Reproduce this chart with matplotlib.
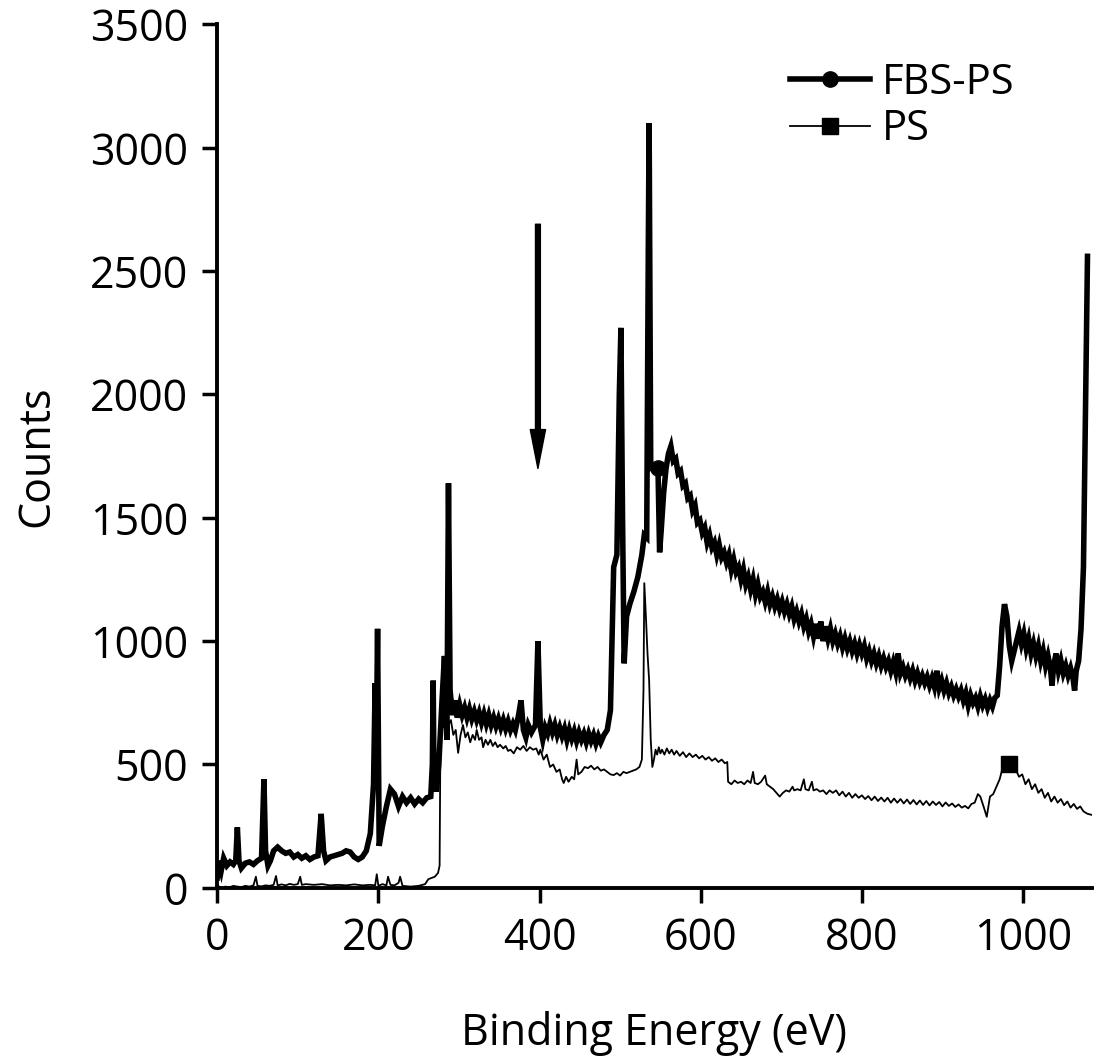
import matplotlib
matplotlib.use("Agg")
import matplotlib.pyplot as plt

plt.rcParams['font.family'] = ['Open Sans', 'DejaVu Sans']

# FBS-PS survey spectrum (binding energy eV, counts)
fbs_ps_points = [
    (0, 40), (2, 110), (5, 70), (8, 120), (12, 90), (16, 105), (20, 95), (23, 110),
    (25, 245), (27, 110), (30, 80), (35, 100), (40, 105), (45, 95), (50, 110), (55, 120),
    (58, 440), (60, 150), (63, 90), (66, 110), (70, 150), (75, 165), (80, 150), (85, 140),
    (90, 145), (95, 125), (100, 135), (105, 120), (110, 130), (115, 115), (120, 125),
    (125, 130), (129, 300), (132, 150), (135, 110), (140, 125), (145, 130), (150, 135),
    (155, 140), (160, 150), (165, 145), (170, 125), (175, 115), (180, 125), (185, 150),
    (190, 220), (194, 420), (196, 830), (197, 400), (199, 1050), (201, 170), (205, 250),
    (210, 330), (215, 400), (220, 380), (225, 330), (230, 370), (235, 345), (240, 365),
    (245, 340), (250, 360), (255, 345), (260, 365), (265, 370), (267, 500), (268, 840),
    (269, 450), (272, 390), (275, 500), (279, 760), (282, 940), (285, 600), (287, 1640),
    (289, 800), (292, 700), (295, 760), (298, 690), (301, 740), (304, 700), (307, 730),
    (310, 690), (313, 725), (316, 685), (319, 715), (322, 680), (325, 710), (328, 670),
    (331, 705), (334, 665), (337, 700), (340, 660), (343, 690), (346, 655), (349, 685),
    (352, 650), (355, 680), (358, 645), (361, 675), (364, 640), (367, 665), (370, 640),
    (374, 700), (377, 760), (380, 640), (383, 610), (386, 660), (390, 630), (395, 660),
    (398, 1000), (401, 650), (404, 600), (407, 650), (410, 625), (413, 665), (416, 630),
    (419, 660), (422, 620), (425, 650), (428, 615), (431, 645), (434, 600), (437, 640),
    (440, 605), (443, 635), (446, 595), (449, 630), (452, 600), (455, 625), (458, 590),
    (461, 625), (464, 595), (467, 620), (470, 585), (473, 615), (476, 590), (480, 620),
    (484, 640), (488, 720), (492, 1300), (496, 1350), (499, 2000), (501, 2270), (503, 1500),
    (505, 910), (508, 1100), (512, 1150), (517, 1200), (522, 1260), (527, 1350), (530, 1430),
    (533, 1420), (535, 2600), (536, 3100), (538, 1700), (547, 1700), (549, 1360), (551, 1450),
    (554, 1600), (557, 1700), (560, 1760), (563, 1790), (566, 1730), (569, 1740), (572, 1680),
    (575, 1690), (578, 1630), (581, 1640), (584, 1580), (587, 1590), (590, 1530), (593, 1550),
    (596, 1480), (599, 1490), (602, 1440), (605, 1460), (608, 1400), (611, 1430), (614, 1380),
    (617, 1400), (620, 1350), (623, 1390), (626, 1340), (629, 1360), (632, 1320), (635, 1350),
    (638, 1290), (641, 1330), (644, 1280), (647, 1300), (650, 1250), (653, 1290), (656, 1230),
    (659, 1260), (662, 1210), (665, 1250), (668, 1190), (671, 1230), (674, 1180), (677, 1200),
    (680, 1160), (683, 1200), (686, 1150), (689, 1180), (692, 1140), (695, 1170), (698, 1130),
    (701, 1160), (704, 1120), (707, 1150), (710, 1110), (713, 1140), (716, 1090), (719, 1120),
    (722, 1080), (725, 1110), (728, 1060), (731, 1090), (734, 1040), (737, 1070), (740, 1020),
    (743, 1070), (746, 1010), (749, 1080), (752, 1000), (755, 1060), (758, 1010), (761, 1050),
    (764, 1000), (767, 1030), (770, 990), (773, 1020), (776, 975), (779, 1010), (782, 970),
    (785, 1000), (788, 960), (791, 990), (794, 950), (797, 985), (800, 950), (803, 980),
    (806, 930), (809, 960), (812, 920), (815, 950), (818, 910), (821, 940), (824, 900),
    (827, 930), (830, 895), (833, 920), (836, 880), (839, 915), (842, 875), (845, 950),
    (848, 870), (851, 895), (854, 860), (857, 885), (860, 850), (863, 880), (866, 840),
    (869, 870), (872, 835), (875, 860), (878, 830), (881, 855), (884, 820), (887, 850),
    (890, 815), (893, 880), (896, 810), (899, 840), (902, 800), (905, 830), (908, 790),
    (911, 815), (914, 780), (917, 805), (920, 775), (923, 800), (926, 760), (929, 790),
    (932, 740), (935, 780), (938, 750), (941, 770), (944, 735), (947, 775), (950, 740),
    (953, 765), (956, 730), (959, 760), (962, 735), (965, 770), (968, 780), (971, 900),
    (974, 1060), (977, 1150), (980, 1100), (983, 980), (986, 920), (989, 960), (992, 1000),
    (995, 1040), (998, 990), (1001, 1030), (1004, 970), (1007, 1010), (1010, 950), (1013, 990),
    (1016, 940), (1019, 980), (1022, 920), (1025, 960), (1028, 900), (1031, 940), (1034, 890),
    (1036, 820), (1038, 900), (1041, 950), (1044, 880), (1047, 920), (1050, 870), (1053, 900),
    (1056, 860), (1059, 890), (1062, 850), (1064, 800), (1066, 880), (1069, 920), (1072, 1050),
    (1075, 1300), (1077, 1800), (1079, 2300), (1080, 2560),
]

# PS survey spectrum
ps_points = [
    (0, 10), (5, 0), (10, 5), (15, 2), (20, 8), (25, 5), (30, 3), (35, 8), (40, 5), (45, 10),
    (48, 45), (50, 8), (55, 6), (60, 10), (65, 8), (70, 12), (73, 48), (75, 10), (80, 14),
    (85, 10), (90, 16), (95, 12), (100, 15), (103, 45), (105, 12), (110, 15), (120, 12),
    (130, 15), (140, 10), (150, 12), (160, 10), (170, 14), (180, 10), (190, 12), (196, 10),
    (198, 55), (200, 8), (205, 15), (210, 10), (212, 45), (215, 12), (220, 10), (225, 20),
    (227, 45), (230, 8), (240, 5), (250, 8), (258, 15), (262, 35), (266, 40), (270, 45),
    (274, 60), (276, 90), (277, 600), (278, 700), (281, 650), (284, 690), (287, 660),
    (290, 680), (293, 620), (296, 640), (299, 547), (302, 620), (305, 660), (308, 610),
    (311, 630), (314, 590), (317, 620), (320, 600), (322, 640), (325, 600), (328, 610),
    (330, 570), (333, 600), (336, 580), (339, 600), (342, 575), (345, 590), (348, 570),
    (351, 580), (355, 565), (358, 575), (361, 555), (364, 560), (368, 545), (372, 570),
    (376, 560), (380, 575), (384, 555), (388, 570), (392, 560), (396, 565), (399, 540),
    (401, 560), (405, 520), (409, 540), (413, 490), (417, 500), (421, 470), (425, 480),
    (428, 440), (430, 425), (433, 450), (436, 430), (440, 450), (443, 440), (446, 520),
    (448, 460), (452, 470), (456, 490), (460, 485), (464, 495), (468, 480), (472, 490),
    (476, 475), (480, 480), (484, 470), (488, 460), (492, 457), (496, 465), (500, 455),
    (504, 470), (508, 465), (512, 470), (516, 475), (520, 480), (524, 490), (527, 520),
    (529, 800), (530, 1235), (532, 1100), (534, 950), (536, 842), (538, 600), (540, 490),
    (542, 520), (544, 560), (546, 540), (548, 570), (550, 545), (552, 560), (555, 540),
    (558, 565), (561, 545), (564, 560), (567, 540), (570, 555), (574, 535), (578, 550),
    (582, 530), (586, 545), (590, 530), (594, 540), (598, 525), (602, 535), (606, 520),
    (610, 530), (614, 515), (618, 525), (622, 510), (626, 520), (630, 505), (633, 510),
    (634, 430), (638, 420), (642, 435), (646, 425), (650, 430), (654, 420), (658, 435),
    (662, 425), (665, 470), (667, 425), (671, 420), (675, 430), (680, 455), (682, 420),
    (686, 410), (690, 400), (694, 385), (698, 370), (702, 385), (706, 395), (710, 390),
    (714, 410), (716, 395), (720, 400), (724, 395), (728, 440), (730, 400), (734, 395),
    (738, 430), (740, 395), (744, 400), (748, 390), (752, 395), (756, 380), (760, 395),
    (764, 385), (768, 395), (772, 375), (776, 390), (780, 370), (784, 385), (788, 365),
    (792, 380), (796, 365), (800, 375), (804, 360), (808, 372), (812, 355), (816, 370),
    (820, 352), (824, 366), (828, 350), (832, 365), (836, 345), (840, 362), (844, 345),
    (848, 360), (852, 342), (856, 358), (860, 340), (864, 356), (868, 338), (872, 354),
    (876, 336), (880, 352), (884, 334), (888, 350), (892, 336), (896, 348), (900, 330),
    (904, 346), (908, 332), (912, 342), (916, 328), (920, 338), (924, 325), (928, 332),
    (932, 322), (936, 340), (940, 345), (944, 380), (947, 370), (951, 330), (955, 288),
    (959, 370), (963, 380), (967, 410), (971, 440), (975, 490), (979, 505), (983, 500),
    (987, 510), (991, 480), (995, 450), (999, 460), (1003, 420), (1007, 440), (1011, 400),
    (1015, 420), (1019, 385), (1023, 400), (1027, 365), (1031, 385), (1035, 350),
    (1039, 370), (1043, 345), (1047, 360), (1051, 335), (1055, 350), (1059, 325),
    (1063, 340), (1067, 320), (1071, 330), (1075, 310), (1080, 300), (1085, 296),
]

fbs_marker_energy = 547
ps_marker_energy = 983
arrow_energy = 398
arrow_top = 2690
arrow_tip = 1700

x_ticks = [0, 200, 400, 600, 800, 1000]
y_ticks = [0, 500, 1000, 1500, 2000, 2500, 3000, 3500]

fbs_x = [p[0] for p in fbs_ps_points]
fbs_y = [p[1] for p in fbs_ps_points]
ps_x = [p[0] for p in ps_points]
ps_y = [p[1] for p in ps_points]

fig = plt.figure(figsize=(10.97, 10.62), dpi=100)
ax = fig.add_axes([0.198, 0.164, 0.797, 0.813])

ax.plot(fbs_x, fbs_y, color='black', lw=4.0, solid_joinstyle='miter',
        marker='o', markersize=11, markevery=[fbs_x.index(fbs_marker_energy)],
        label='FBS-PS')
ax.plot(ps_x, ps_y, color='black', lw=1.3,
        marker='s', markersize=11, markevery=[ps_x.index(ps_marker_energy)],
        label='PS')

ax.annotate('', xy=(arrow_energy, arrow_tip), xytext=(arrow_energy, arrow_top),
            arrowprops=dict(facecolor='black', edgecolor='black', width=3.5,
                            headwidth=11, headlength=28, shrink=0))

ax.set_xlim(0, 1085)
ax.set_ylim(0, 3500)
ax.set_xticks(x_ticks)
ax.set_yticks(y_ticks)
ax.tick_params(axis='both', direction='out', length=11, width=2.5, labelsize=31, pad=10)
for side in ['top', 'right']:
    ax.spines[side].set_visible(False)
for side in ['left', 'bottom']:
    ax.spines[side].set_linewidth(2.8)

ax.set_xlabel('Binding Energy (eV)', fontsize=31, labelpad=36)
ax.set_ylabel('Counts', fontsize=31, labelpad=22)

leg = ax.legend(loc='upper right', bbox_to_anchor=(0.955, 1.0), frameon=False,
                fontsize=30, handlelength=1.9, handletextpad=0.3, labelspacing=0.1)

fig.savefig('out.png', dpi=100)
